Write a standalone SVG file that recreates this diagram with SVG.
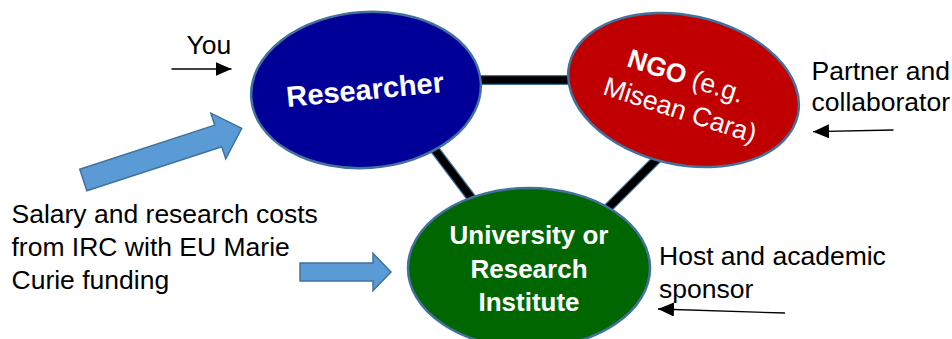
<svg xmlns="http://www.w3.org/2000/svg" width="952" height="339" viewBox="0 0 952 339">
<style>
.lbl{font-family:"Liberation Sans",Arial,sans-serif;font-size:26.5px;fill:#000}
.nt{font-family:"Liberation Sans",Arial,sans-serif;fill:#fff;text-anchor:middle}
.b{font-weight:bold}
.node{stroke:#41719C;stroke-width:2.5}
.edgeOut{stroke:#41719C;stroke-width:10;fill:none}
.edgeIn{stroke:#000;stroke-width:7.5;fill:none}
.thin{stroke:#000;stroke-width:1.3;fill:none}
.block{fill:#5B9BD5;stroke:#41719C;stroke-width:1.5;stroke-linejoin:miter}
</style>
<defs>
<marker id="ah" markerWidth="16" markerHeight="14" refX="16" refY="7" orient="auto" markerUnits="userSpaceOnUse">
<path d="M0,0 L16,7 L0,14 Z" fill="#000"/>
</marker>
</defs>
<rect width="952" height="339" fill="#fff"/>
<g id="connectors">
<line class="edgeOut" x1="470" y1="80" x2="580" y2="80"/>
<line class="edgeIn" x1="470" y1="80" x2="580" y2="80"/>
<line class="edgeOut" x1="420" y1="130" x2="482" y2="212"/>
<line class="edgeIn" x1="420" y1="130" x2="482" y2="212"/>
<line class="edgeOut" x1="672" y1="144" x2="596" y2="220"/>
<line class="edgeIn" x1="672" y1="144" x2="596" y2="220"/>
</g>
<g id="researcher">
<ellipse class="node" cx="366" cy="90" rx="115" ry="78" fill="#000099" transform="rotate(-4 366 90)"/>
<text class="nt b" font-size="29" transform="translate(366 99.5) rotate(-5.5)">Researcher</text>
</g>
<g id="ngo">
<ellipse class="node" cx="683.5" cy="90" rx="117" ry="74.5" fill="#C00000" transform="rotate(12.5 683.5 90)"/>
<g transform="translate(683.5 90) rotate(18)">
<text class="nt" font-size="26.5" x="-2" y="-5"><tspan class="b">NGO</tspan> (e.g.</text>
<text class="nt" font-size="26.5" x="3" y="29">Misean Cara)</text>
</g>
</g>
<g id="university">
<ellipse class="node" cx="529" cy="268" rx="121" ry="80" fill="#006600"/>
<text class="nt b" font-size="26" x="529" y="244">University or</text>
<text class="nt b" font-size="26" x="529" y="278">Research</text>
<text class="nt b" font-size="26" x="529" y="311">Institute</text>
</g>
<g id="funding-arrows">
<path class="block" transform="translate(83.3 180) rotate(-18.07)" d="M0,-11.4 L142,-11.4 L142,-24 L166.6,0 L142,24 L142,11.4 L0,11.4 Z"/>
<path class="block" d="M300,263 L373,263 L373,253.3 L391,272 L373,290.7 L373,281 L300,281 Z"/>
</g>
<g id="labels">
<text class="lbl" x="186.5" y="54">You</text>
<line class="thin" x1="171.5" y1="69" x2="231.5" y2="69" marker-end="url(#ah)"/>
<text class="lbl" x="811.5" y="80">Partner and</text>
<text class="lbl" x="811.5" y="111">collaborator</text>
<line class="thin" x1="893.5" y1="130" x2="813" y2="131.7" marker-end="url(#ah)"/>
<text class="lbl" x="11.5" y="222.7">Salary and research costs</text>
<text class="lbl" x="11.5" y="256">from IRC with EU Marie</text>
<text class="lbl" x="11.5" y="288.5">Curie funding</text>
<text class="lbl" x="659" y="265">Host and academic</text>
<text class="lbl" x="659" y="298">sponsor</text>
<line class="thin" x1="785" y1="313" x2="658" y2="309" marker-end="url(#ah)"/>
</g>
</svg>
